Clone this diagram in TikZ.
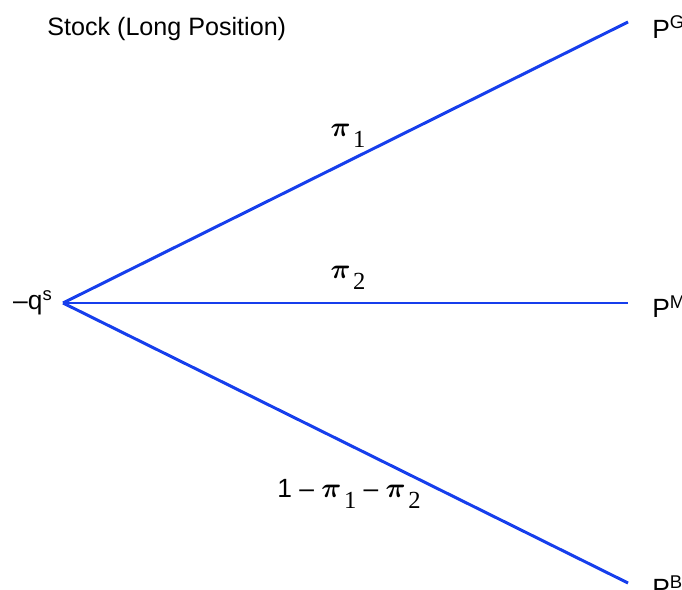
\documentclass[tikz,border=0pt]{standalone}
\usepackage{amsmath,amssymb,bm}
\usepackage{fontspec}
\setmainfont{Liberation Sans}
\newfontfamily\subserif{Liberation Serif}
\usepackage{tikz}
\usetikzlibrary{positioning}
\definecolor{branchblue}{RGB}{22,62,236}
\tikzset{
  branch/.style={draw=branchblue, line width=1.7pt},
  outcome/.style={anchor=west, inner sep=0pt, font=\fontsize{15}{18}\selectfont},
  prob/.style={inner sep=0pt, font=\fontsize{15}{18}\selectfont},
}
\newcommand{\pisub}[1]{\scalebox{1.1}{$\bm{\pi}$}\kern1.5pt\raisebox{-6pt}{\subserif\fontsize{14}{16}\selectfont #1}}

\begin{document}
\begin{tikzpicture}[x=0.02cm, y=-0.02cm]
  \useasboundingbox (0,0) rectangle (682,590);

  % Title
  \node[anchor=west, inner sep=0pt, font=\fontsize{14.3}{17}\selectfont] (title) at (47,29) {Stock (Long Position)};

  % Root and outcomes
  \coordinate (root) at (63,303);
  \coordinate (good) at (628,22);
  \coordinate (mid)  at (628,303);
  \coordinate (bad)  at (628,583);
  \node[outcome, anchor=east] (cost) at (53,303) {--q\textsuperscript{s}};
  \node[outcome] (pg) at (652,27) {P\textsuperscript{G}};
  \node[outcome] (pm) at (652,307) {P\textsuperscript{M}};
  \node[outcome] (pb) at (652,587) {P\textsuperscript{B}};

  % Branches
  \draw[branch] (root) -- (good);
  \draw[branch] (root) -- (mid);
  \draw[branch] (root) -- (bad);

  % Probabilities
  \node[prob] (p1) at (348,136) {\pisub{1}};
  \node[prob] (p2) at (348,278) {\pisub{2}};
  \node[prob] (p3) at (349,494) {1 -- \pisub{1} -- \pisub{2}};
\end{tikzpicture}
\end{document}
